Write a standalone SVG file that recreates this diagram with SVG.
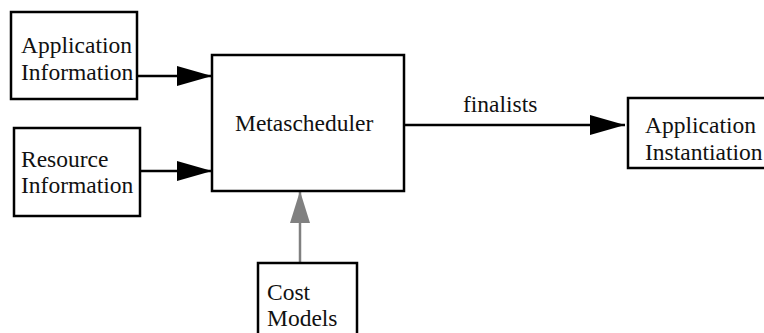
<svg xmlns="http://www.w3.org/2000/svg" width="764" height="333" viewBox="0 0 764 333">
<style>
.box{fill:#fff;stroke:#000;stroke-width:2.5}
.t{font-family:"Liberation Serif","Times New Roman",serif;font-size:23.5px;fill:#111}
.c{stroke:#000;stroke-width:2.5;fill:none}
.g{stroke:#808080;stroke-width:2.5;fill:none}
</style>
<defs>
<marker id="ab" markerUnits="userSpaceOnUse" markerWidth="36" markerHeight="20" refX="35" refY="10" orient="auto"><path d="M0,0 L35,10 L0,20 Z" fill="#000"/></marker>
<marker id="ag" markerUnits="userSpaceOnUse" markerWidth="33" markerHeight="20" refX="32" refY="10" orient="auto"><path d="M0,0 L32,10 L0,20 Z" fill="#808080"/></marker>
</defs>
<rect width="764" height="333" fill="#fff"/>
<g id="connectors">
<line class="c" x1="137" y1="76" x2="212" y2="76" marker-end="url(#ab)"/>
<line class="c" x1="140" y1="171" x2="212" y2="171" marker-end="url(#ab)"/>
<line class="c" x1="404" y1="125" x2="625" y2="125" marker-end="url(#ab)"/>
<line class="g" x1="300" y1="263" x2="300" y2="191" marker-end="url(#ag)"/>
<text class="t" x="463" y="112">finalists</text>
</g>
<g id="app-info">
<rect class="box" x="11" y="12" width="126" height="87"/>
<text class="t" x="21" y="53">Application</text>
<text class="t" x="21" y="80">Information</text>
</g>
<g id="resource-info">
<rect class="box" x="14" y="128" width="126" height="88"/>
<text class="t" x="21" y="167">Resource</text>
<text class="t" x="21" y="193">Information</text>
</g>
<g id="metascheduler">
<rect class="box" x="212" y="55" width="192" height="136"/>
<text class="t" x="235" y="131">Metascheduler</text>
</g>
<g id="app-inst">
<rect class="box" x="628" y="98" width="150" height="70"/>
<text class="t" x="645" y="133">Application</text>
<text class="t" x="645" y="160">Instantiation</text>
</g>
<g id="cost-models">
<rect class="box" x="258" y="263" width="99" height="80"/>
<text class="t" x="267" y="300">Cost</text>
<text class="t" x="267" y="326">Models</text>
</g>
</svg>
